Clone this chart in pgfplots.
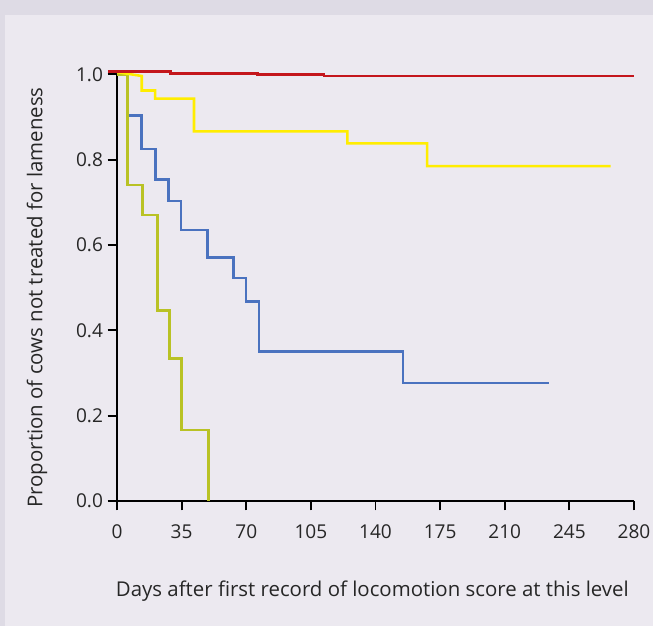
\documentclass[border=0pt]{standalone}
\usepackage{pgfplots}
\pgfplotsset{compat=1.18}
\usepackage{fontspec}
\setmainfont{Open Sans}
\definecolor{outerbg}{HTML}{DEDBE5}
\definecolor{innerbg}{HTML}{ECE9F0}
\definecolor{kmred}{HTML}{C4161C}
\definecolor{kmyellow}{HTML}{FFED00}
\definecolor{kmblue}{HTML}{4A72BF}
\definecolor{kmolive}{HTML}{B9C225}
\begin{document}
\begin{tikzpicture}
\fill[outerbg] (0pt,0pt) rectangle (489.75pt,469.5pt);
\fill[innerbg] (3.75pt,0pt) rectangle (489.75pt,458.25pt);
\begin{axis}[
  at={(87.75pt,93.75pt)}, anchor=south west,
  scale only axis, width=387.75pt, height=322.6pt,
  xmin=0, xmax=280, ymin=0, ymax=1.008,
  clip=false,
  axis x line=bottom, axis y line=left,
  axis line style={-, line width=1.6pt, black},
  tick align=outside,
  major tick length=7pt,
  every tick/.style={black, line width=1.4pt},
  xtick={0,35,70,105,140,175,210,245,280},
  ytick={0,0.2,0.4,0.6,0.8,1.0},
  /pgf/number format/assume math mode=true,
  yticklabel style={/pgf/number format/fixed, /pgf/number format/fixed zerofill, /pgf/number format/precision=1},
  tick label style={font=\fontsize{14.3}{16}\selectfont, text=black!85},
  xticklabel style={anchor=base, yshift=-21pt},
  label style={font=\fontsize{15.3}{18}\selectfont, text=black!85},
  xlabel={Days after first record of locomotion score at this level},
  ylabel={Proportion of cows not treated for lameness},
  xlabel style={at={(axis description cs:0.494,-0.223)}, anchor=base},
  ylabel style={at={(axis description cs:-0.1547,0.473)}, anchor=center},
  every axis plot/.style={line width=1.9pt},
]
\addplot[kmblue] coordinates {
 (0,1.0) (5.8,1.0) (5.8,0.903) (13.3,0.903) (13.3,0.825) (20.8,0.825) (20.8,0.754)
 (28,0.754) (28,0.703) (34.7,0.703) (34.7,0.635) (48.9,0.635) (48.9,0.571)
 (63,0.571) (63,0.523) (69.9,0.523) (69.9,0.467) (76.9,0.467) (76.9,0.350)
 (155,0.350) (155,0.276) (234.2,0.276)};
\addplot[kmolive] coordinates {
 (0,1.0) (5.8,1.0) (5.8,0.740) (13.9,0.740) (13.9,0.670) (22,0.670) (22,0.447)
 (28.3,0.447) (28.3,0.334) (35,0.334) (35,0.166) (49.5,0.166) (49.5,0)};
\addplot[kmyellow] coordinates {
 (0,1.005) (13.4,0.996) (13.4,0.962) (20.6,0.962) (20.6,0.943) (41.7,0.943)
 (41.7,0.866) (124.8,0.866) (124.8,0.838) (168,0.838) (168,0.785) (267.4,0.785)};
\addplot[kmred] coordinates {
 (-5,1.006) (29,1.006) (29,1.002) (76,1.002) (76,0.999) (112,0.999) (112,0.996) (280,0.996)};
\end{axis}
\pgfresetboundingbox
\path (0pt,0pt) rectangle (489.75pt,469.5pt);
\end{tikzpicture}
\end{document}
